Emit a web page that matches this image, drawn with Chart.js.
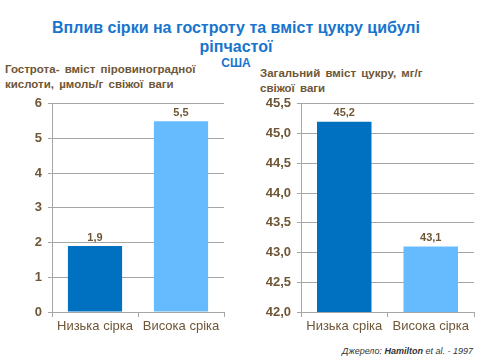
<!DOCTYPE html>
<html><head><meta charset="utf-8">
<script src="https://cdn.jsdelivr.net/npm/chart.js@4/dist/chart.umd.min.js"></script>
<style>
html,body{margin:0;padding:0;background:#fff;width:480px;height:360px;overflow:hidden;font-family:"Liberation Sans",Arial,sans-serif;}
.t{position:absolute;white-space:nowrap;}
#title{left:0;width:472px;top:18px;text-align:center;color:#1874CD;font-weight:bold;font-size:16px;line-height:19px;}
#sub{left:0;width:472px;top:56px;text-align:center;color:#1874CD;font-weight:bold;font-size:12px;}
.ax{color:#6e5636;font-weight:bold;font-size:11.5px;line-height:14.5px;word-spacing:2px;}
#src{right:7px;top:346px;font-style:italic;font-size:9px;color:#333;}
canvas{position:absolute;}
</style></head><body>
<div class="t" id="title">Вплив сірки на гостроту та вміст цукру цибулі<br>ріпчастої</div>
<div class="t" id="sub">США</div>
<div class="t ax" style="left:5px;top:62px;">Гострота- вміст піровиноградної<br>кислоти, µмоль/г свіжої ваги</div>
<div class="t ax" style="left:260px;top:66px;">Загальний вміст цукру, мг/г<br>свіжої ваги</div>
<div class="t" id="src">Джерело: <b>Hamilton</b> et al. - 1997</div>
<div style="position:absolute;left:0;top:90px;width:240px;height:250px;"><canvas id="c1"></canvas></div>
<div style="position:absolute;left:240px;top:90px;width:240px;height:250px;"><canvas id="c2"></canvas></div>
<script>
const categoriesLeft = ["Низька сірка", "Висока сріка"];
const valuesLeft = [1.9, 5.5];
const categoriesRight = ["Низька сріка", "Висока сірка"];
const valuesRight = [45.2, 43.1];
const barColors = ["#0070C0", "#66BBFF"];

const brown = "#6e5636";
const gridCol = "#a6a6a6";

const labelPlugin = {
  id: "vals",
  afterDatasetsDraw(chart) {
    const ctx = chart.ctx;
    const ds = chart.data.datasets[0];
    const meta = chart.getDatasetMeta(0);
    ctx.save();
    ctx.font = "bold 11px 'Liberation Sans', Arial, sans-serif";
    ctx.fillStyle = brown;
    ctx.textAlign = "center";
    ctx.textBaseline = "bottom";
    meta.data.forEach((bar, i) => {
      ctx.fillText(ds.data[i].toFixed(1).replace(".", ","), bar.x, bar.y - 3);
    });
    ctx.restore();
  }
};

function make(id, cats, vals, min, max, step, yWidth, padRight, decimals) {
  return new Chart(document.getElementById(id), {
    type: "bar",
    data: { labels: cats, datasets: [{ data: vals, backgroundColor: barColors, barPercentage: 0.63, categoryPercentage: 1.0 }] },
    options: {
      responsive: true, maintainAspectRatio: false, animation: false,
      layout: { padding: { top: 11, right: padRight, left: 0, bottom: 0 } },
      plugins: { legend: { display: false }, tooltip: { enabled: false } },
      scales: {
        x: {
          grid: { display: true, drawOnChartArea: false, drawTicks: true, tickLength: 5, color: gridCol, offset: true },
          border: { color: gridCol },
          ticks: { color: brown, font: { size: 13, family: "'Liberation Sans', Arial, sans-serif" }, padding: 2, maxRotation: 0 },
          afterFit: s => { s.height = 28; }
        },
        y: {
          min: min, max: max,
          grid: { color: gridCol, tickLength: 4 },
          border: { color: gridCol },
          ticks: { stepSize: step, color: brown, padding: 6,
            font: { size: 13, weight: "bold", family: "'Liberation Sans', Arial, sans-serif" },
            callback: v => decimals ? v.toFixed(1).replace(".", ",") : String(v) },
          afterFit: s => { s.width = yWidth; }
        }
      }
    },
    plugins: [labelPlugin]
  });
}
make("c1", categoriesLeft, valuesLeft, 0, 6, 1, 52, 16, false);
make("c2", categoriesRight, valuesRight, 42, 45.5, 0.5, 61, 6, true);
</script>
</body></html>
